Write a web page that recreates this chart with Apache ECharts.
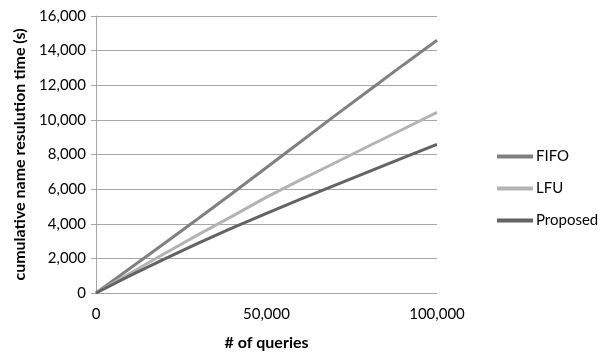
<!DOCTYPE html>
<html>
<head>
<meta charset="utf-8">
<script src="https://cdn.jsdelivr.net/npm/echarts@6/dist/echarts.min.js"></script>
<style>html,body{margin:0;padding:0;background:#fff}#c{width:600px;height:356px}</style>
</head>
<body>
<div id="c"></div>
<script>
var queries = [0, 10000, 20000, 30000, 40000, 50000, 60000, 70000, 80000, 90000, 100000];
var fifo = [0, 1430, 2860, 4300, 5760, 7250, 8740, 10230, 11700, 13160, 14600];
var lfu = [0, 1140, 2270, 3370, 4440, 5540, 6530, 7510, 8490, 9460, 10430];
var proposed = [0, 1000, 1960, 2880, 3760, 4600, 5420, 6220, 7010, 7800, 8580];
var seriesNames = ['FIFO', 'LFU', 'Proposed'];
var seriesColors = ['#808080', '#b3b3b3', '#636363'];

function pairs(ys){ return queries.map(function(q,i){ return [q, ys[i]]; }); }
function fmt(v){ return v.toString().replace(/\B(?=(\d{3})+(?!\d))/g, ','); }

var font = 'Lato';
var chart = echarts.init(document.getElementById('c'), null, {renderer:'canvas'});
var data = [fifo, lfu, proposed];
chart.setOption({
  animation: false,
  textStyle: {fontFamily: font},
  grid: {left: 96, right: 163, top: 16, bottom: 60, containLabel: false},
  legend: {
    orient: 'vertical', left: 492, top: 144, itemGap: 17,
    itemWidth: 36, itemHeight: 4, icon: 'rect',
    textStyle: {fontFamily: font, fontSize: 15, color: '#000', padding: [0,0,0,-2]},
    data: seriesNames
  },
  xAxis: {
    type: 'value', min: 0, max: 100000, interval: 50000,
    name: '# of queries', nameLocation: 'middle', nameGap: 42,
    nameTextStyle: {fontFamily: font, fontSize: 16, fontWeight: 'bold', color: '#000'},
    axisLine: {show: true, lineStyle: {color: '#a6a6a6', width: 1}},
    axisTick: {show: false},
    splitLine: {show: false},
    axisLabel: {fontFamily: font, fontSize: 15, color: '#000', margin: 14, formatter: fmt}
  },
  yAxis: {
    type: 'value', min: 0, max: 16000, interval: 2000,
    name: 'cumulative name resulution time (s)', nameLocation: 'middle', nameGap: 68,
    nameTextStyle: {fontFamily: font, fontSize: 16, fontWeight: 'bold', color: '#000'},
    axisLine: {show: true, lineStyle: {color: '#a6a6a6', width: 1}},
    axisTick: {show: true, length: 5, lineStyle: {color: '#a6a6a6'}},
    splitLine: {show: true, lineStyle: {color: '#a6a6a6', width: 1}},
    axisLabel: {fontFamily: font, fontSize: 15, color: '#000', margin: 10, formatter: fmt}
  },
  series: seriesNames.map(function(n, i){
    return {
      name: n, type: 'line', data: pairs(data[i]), showSymbol: false, symbol: 'none',
      lineStyle: {color: seriesColors[i], width: 3}, itemStyle: {color: seriesColors[i]}
    };
  })
});
</script>
</body>
</html>
